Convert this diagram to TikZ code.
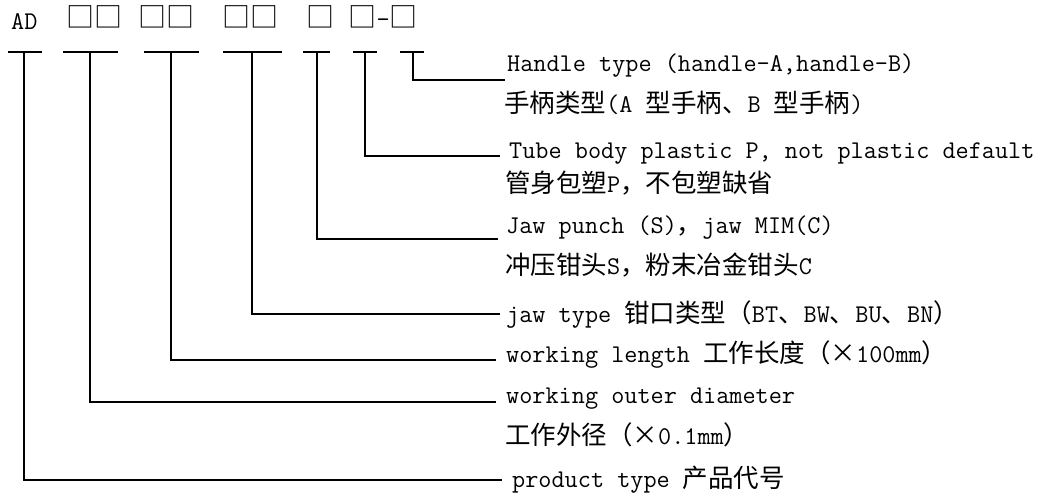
\documentclass[tikz,border=0pt]{standalone}
\usepackage{fontspec}
\newfontfamily\cjk{Noto Sans CJK SC}
\newcommand\zh[1]{{\cjk #1}}
\newcommand\bx[1]{{\fontsize{28}{30}\selectfont\cjk #1}}
\begin{document}
\begin{tikzpicture}[x=1pt,y=-1pt,
  lat/.style={anchor=base west,inner sep=0pt,font=\fontsize{25.5}{30}\selectfont\ttfamily},
  bar/.style={line width=2.2pt},
  conn/.style={line width=1.4pt}]
\useasboundingbox (0,0) rectangle (1044,493);
% code row
\node[lat] (c1) at (11,29) {AD};
\node[lat] (c2) at (66.5,27) {\bx{□□}};
\node[lat] (c3) at (138.5,27) {\bx{□□}};
\node[lat] (c4) at (222.5,27) {\bx{□□}};
\node[lat] (c5) at (306.5,27) {\bx{□}};
\node[lat] (c6) at (348.5,27) {\bx{□}-\bx{□}};
% T bars
\draw[bar] (8,52) -- (42,52);
\draw[bar] (63,52) -- (118,52);
\draw[bar] (144,52) -- (199,52);
\draw[bar] (223,52) -- (282,52);
\draw[bar] (303,52) -- (330,52);
\draw[bar] (353,52) -- (377,52);
\draw[bar] (400,52) -- (424,52);
% vertical starts
\coordinate (v1) at (24,52);
\coordinate (v2) at (90,52);
\coordinate (v3) at (171,52);
\coordinate (v4) at (252,52);
\coordinate (v5) at (317,52);
\coordinate (v6) at (365,52);
\coordinate (v7) at (413,52);
% connector ends
\coordinate (e7) at (505,80);
\coordinate (e6) at (500,156);
\coordinate (e5) at (498,239);
\coordinate (e4) at (500,314);
\coordinate (e3) at (496,360);
\coordinate (e2) at (496,402);
\coordinate (e1) at (502,480);
\draw[conn] (v7) |- (e7);
\draw[conn] (v6) |- (e6);
\draw[conn] (v5) |- (e5);
\draw[conn] (v4) |- (e4);
\draw[conn] (v3) |- (e3);
\draw[conn] (v2) |- (e2);
\draw[conn] (v1) |- (e1);
% labels
\node[lat] (l1) at (507,71) {Handle type (handle-A,handle-B)};
\node[lat] (z1) at (504,112) {\zh{手柄类型}(A \zh{型手柄、}B \zh{型手柄})};
\node[lat] (l2) at (509,158) {Tube body plastic P, not plastic default};
\node[lat] (z2) at (505,192) {\zh{管身包塑}P\zh{，不包塑缺省}};
\node[lat] (l3) at (506,233) {Jaw punch (S)\zh{，}jaw MIM(C)};
\node[lat] (z3) at (505,274) {\zh{冲压钳头}S\zh{，粉末冶金钳头}C};
\node[lat] (l4) at (506,322) {jaw type \zh{钳口类型（}BT\zh{、}BW\zh{、}BU\zh{、}BN\zh{）}};
\node[lat] (l5) at (506,362) {working length \zh{工作长度（×}100mm\zh{）}};
\node[lat] (l6) at (506,403) {working outer diameter};
\node[lat] (z6) at (505,444) {\zh{工作外径（×}0.1mm\zh{）}};
\node[lat] (l7) at (512,487) {product type \zh{产品代号}};
\end{tikzpicture}
\end{document}
